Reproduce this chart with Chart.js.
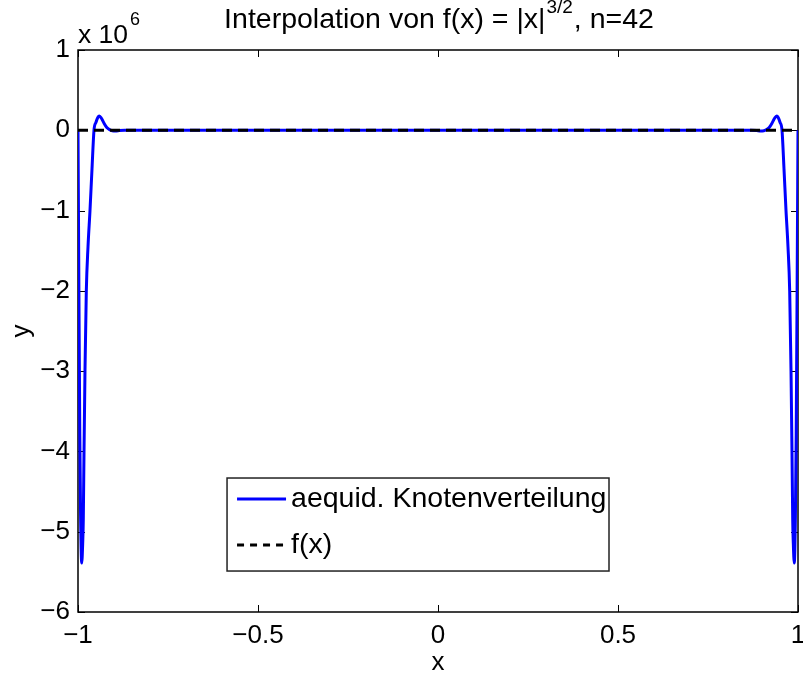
<!DOCTYPE html>
<html><head><meta charset="utf-8">
<script src="https://cdn.jsdelivr.net/npm/chart.js@4/dist/chart.umd.min.js"></script>
<style>html,body{margin:0;padding:0;background:#fff;}#wrap{width:803px;height:678px;}</style>
</head><body><div id="wrap"><canvas id="c" width="803" height="678"></canvas></div>
<script>
const blueX = [-1.0, -0.9975, -0.995, -0.9928, -0.9897, -0.987, -0.9853, -0.9833, -0.9806, -0.9769, -0.9722, -0.9667, -0.9611, -0.9556, -0.950, -0.945, -0.9408, -0.935, -0.928, -0.920, -0.911, -0.905, -0.895, -0.885, -0.870,
  -0.5, 0, 0.5,
  0.870, 0.885, 0.895, 0.905, 0.911, 0.920, 0.928, 0.935, 0.9408, 0.945, 0.950, 0.9556, 0.9611, 0.9667, 0.9722, 0.9769, 0.9806, 0.9833, 0.9853, 0.987, 0.9897, 0.9928, 0.995, 0.9975, 1.0];
const blueY = [1, -2.0e6, -3.8e6, -4.8e6, -5.39e6, -5.15e6, -4.85e6, -4.0e6, -3.0e6, -2.0e6, -1.45e6, -1.0e6, -0.48e6, 0, 0.10e6, 0.16e6, 0.178e6, 0.15e6, 0.09e6, 0.035e6, 0.005e6, -0.005e6, -0.008e6, -0.003e6, 0,
  0.35, 0, 0.35,
  0, -0.003e6, -0.008e6, -0.005e6, 0.005e6, 0.035e6, 0.09e6, 0.15e6, 0.178e6, 0.16e6, 0.10e6, 0, -0.48e6, -1.0e6, -1.45e6, -2.0e6, -3.0e6, -4.0e6, -4.85e6, -5.15e6, -5.39e6, -4.8e6, -3.8e6, -2.0e6, 1];
const fX = [-1, -0.75, -0.5, -0.25, 0, 0.25, 0.5, 0.75, 1];
const fY = [1, 0.65, 0.35, 0.125, 0, 0.125, 0.35, 0.65, 1];
const xTicks = [-1, -0.5, 0, 0.5, 1];
const yTicks = [-6, -5, -4, -3, -2, -1, 0, 1];   // in units of 10^6
const yExponent = 6;
const seriesNames = ['aequid. Knotenverteilung', 'f(x)'];
const titleMain = 'Interpolation von f(x) = |x|', titleSup = '3/2', titleEnd = ', n=42';
const xLabel = 'x', yLabel = 'y';

const FONT = "'Liberation Sans', Arial, Helvetica, sans-serif";
const FS = 26;
const fmt = v => (v < 0 ? '\u2212' : '') + String(Math.abs(v));

const decor = {
  id: 'decor',
  beforeDatasetsDraw(chart) {
    const {ctx, chartArea: a, scales} = chart;
    ctx.save();
    ctx.strokeStyle = '#000'; ctx.lineWidth = 1.5;
    ctx.strokeRect(a.left, a.top, a.right - a.left, a.bottom - a.top);
    ctx.lineWidth = 1;
    const tl = 7;
    ctx.beginPath();
    xTicks.forEach(v => { const p = Math.round(scales.x.getPixelForValue(v)) + 0.5;
      ctx.moveTo(p, a.bottom); ctx.lineTo(p, a.bottom - tl);
      ctx.moveTo(p, a.top); ctx.lineTo(p, a.top + tl); });
    yTicks.forEach(v => { const p = Math.round(scales.y.getPixelForValue(v * Math.pow(10, yExponent))) + 0.5;
      ctx.moveTo(a.left, p); ctx.lineTo(a.left + tl, p);
      ctx.moveTo(a.right, p); ctx.lineTo(a.right - tl, p); });
    ctx.stroke();
    ctx.restore();
  },
  afterDraw(chart) {
    const {ctx, chartArea: a} = chart;
    ctx.save();
    ctx.fillStyle = '#000';
    // title with superscript
    const cx = (a.left + a.right) / 2;
    ctx.textBaseline = 'alphabetic';
    const fT = 28.5, fSup = 19;
    ctx.font = fT + 'px ' + FONT;
    const w1 = ctx.measureText(titleMain).width, w3 = ctx.measureText(titleEnd).width;
    ctx.font = fSup + 'px ' + FONT;
    const w2 = ctx.measureText(titleSup).width;
    let x0 = cx - (w1 + w2 + w3) / 2;
    const base = 28;
    ctx.font = fT + 'px ' + FONT; ctx.textAlign = 'left';
    ctx.fillText(titleMain, x0, base);
    ctx.font = fSup + 'px ' + FONT;
    ctx.fillText(titleSup, x0 + w1 + 1, base - 15);
    ctx.font = fT + 'px ' + FONT;
    ctx.fillText(titleEnd, x0 + w1 + w2 + 2, base);
    // exponent label
    ctx.font = '26.5px ' + FONT;
    ctx.fillText('x 10', a.left, a.top - 7);
    const wx = ctx.measureText('x 10').width;
    ctx.font = '18px ' + FONT;
    ctx.fillText(String(yExponent), a.left + wx + 2, a.top - 25);
    // legend
    const ds = chart.data.datasets;
    const W = a.right - a.left, H = a.bottom - a.top;
    const bx = a.left + 0.207 * W, by = a.top + 0.7616 * H;
    const bw = 0.5305 * W, bh = 0.1655 * H;
    ctx.fillStyle = '#fff';
    ctx.fillRect(bx, by, bw, bh);
    ctx.strokeStyle = '#222'; ctx.lineWidth = 1.5;
    ctx.strokeRect(bx, by, bw, bh);
    const rows = [by + 21, by + 67];
    ds.forEach((d, i) => {
      const y = rows[i];
      ctx.beginPath();
      ctx.strokeStyle = d.borderColor; ctx.lineWidth = d.borderWidth;
      ctx.setLineDash(i === 1 ? [7, 6] : []);
      ctx.moveTo(bx + 10, y); ctx.lineTo(bx + 59, y);
      ctx.stroke();
      ctx.setLineDash([]);
      ctx.fillStyle = '#000';
      ctx.font = '28.5px ' + FONT; ctx.textBaseline = 'middle'; ctx.textAlign = 'left';
      ctx.fillText(d.label, bx + 64, y);
    });
    ctx.restore();
  }
};

const noPad = s => { s.paddingLeft = 0; s.paddingRight = 0; s.paddingTop = 0; s.paddingBottom = 0; };

new Chart(document.getElementById('c'), {
  type: 'line',
  data: {
    datasets: [
      { label: seriesNames[0], data: blueX.map((x, i) => ({x, y: blueY[i]})),
        borderColor: '#0000ff', borderWidth: 3, pointRadius: 0, fill: false,
        cubicInterpolationMode: 'monotone', order: 1 },
      { label: seriesNames[1], data: fX.map((x, i) => ({x, y: fY[i]})),
        borderColor: '#000000', borderWidth: 3, borderDash: [10, 6], pointRadius: 0, fill: false,
        order: 0 }
    ]
  },
  options: {
    responsive: false, animation: false, devicePixelRatio: 1,
    layout: { padding: { top: 50, right: 5, left: 0, bottom: 0 } },
    plugins: { legend: { display: false }, title: { display: false }, tooltip: { enabled: false } },
    scales: {
      x: {
        type: 'linear', min: -1, max: 1,
        afterBuildTicks: s => { s.ticks = xTicks.map(v => ({value: v})); },
        afterFit: s => { s.height = 66; noPad(s); },
        grid: { display: false, drawTicks: false }, border: { display: false },
        ticks: { color: '#000', font: { family: FONT, size: FS }, padding: 8, maxRotation: 0,
          callback: v => fmt(v) },
        title: { display: true, text: xLabel, color: '#000', font: { family: FONT, size: FS }, padding: { top: 0, bottom: 0 } }
      },
      y: {
        type: 'linear', min: yTicks[0] * Math.pow(10, yExponent), max: yTicks[yTicks.length - 1] * Math.pow(10, yExponent),
        afterBuildTicks: s => { s.ticks = yTicks.map(v => ({value: v * Math.pow(10, yExponent)})); },
        afterFit: s => { s.width = 78; noPad(s); },
        grid: { display: false, drawTicks: false }, border: { display: false },
        ticks: { color: '#000', font: { family: FONT, size: FS }, padding: 8,
          callback: v => fmt(Math.round(v / Math.pow(10, yExponent))) },
        title: { display: true, text: yLabel, color: '#000', font: { family: FONT, size: FS }, padding: { top: 6, bottom: 0 } }
      }
    }
  },
  plugins: [decor]
});
</script></body></html>
